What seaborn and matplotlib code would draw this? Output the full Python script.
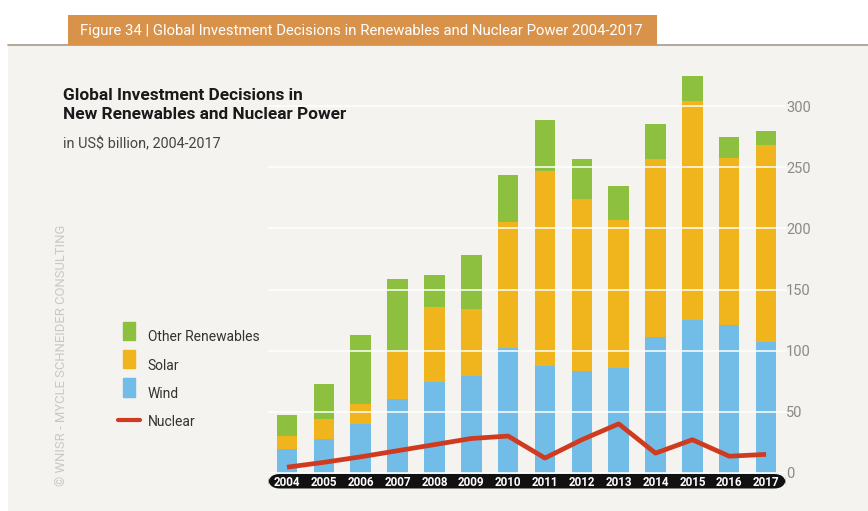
import matplotlib
matplotlib.use("Agg")
import matplotlib.pyplot as plt
from matplotlib.patches import Rectangle, FancyBboxPatch, Patch
from matplotlib.lines import Line2D
from matplotlib.legend_handler import HandlerPatch
import numpy as np
import pandas as pd
import seaborn as sns

# ---- data (US$ billion) ----
years = ["2004", "2005", "2006", "2007", "2008", "2009", "2010",
         "2011", "2012", "2013", "2014", "2015", "2016", "2017"]
wind = [19, 28, 40, 60, 74.5, 79, 102, 87, 83.5, 86, 111, 125, 121, 107]
solar = [11, 16, 16, 39, 61.5, 55, 103, 160, 141, 121, 146, 179.5, 137, 161]
other = [17, 29, 57, 60, 26, 44, 39, 42, 32.5, 28, 28.5, 20.5, 16.5, 12]
nuclear = [4.5, 8.5, 13, 18, 23, 28, 30, 12, 27, 40, 16, 27, 13.5, 15]
y_ticks = [0, 50, 100, 150, 200, 250, 300]

C_OTHER = "#8dc03f"
C_SOLAR = "#f0b51c"
C_WIND = "#72bde8"
C_NUC = "#d03a1e"

sns.set_theme(style="white")
plt.rcParams["font.family"] = ["Roboto", "DejaVu Sans"]

W, H = 868, 511
fig = plt.figure(figsize=(W / 100, H / 100), dpi=100)
fig.patch.set_facecolor("white")


def fx(px):
    return px / W


def fy(py):
    return 1 - py / H


# panel background and header rule
fig.patches.append(Rectangle((fx(8), 0), 1 - fx(8), fy(45), transform=fig.transFigure,
                             facecolor="#f4f3f0", edgecolor="none", zorder=-2))
fig.lines.append(Line2D([fx(8), 1], [fy(45), fy(45)], transform=fig.transFigure,
                        color="#a89a8a", lw=1.2, zorder=-1))
fig.patches.append(Rectangle((fx(68), fy(45)), fx(657) - fx(68), fy(15) - fy(45),
                             transform=fig.transFigure, facecolor="#d9924a",
                             edgecolor="none", zorder=1))
fig.text(fx(80), fy(30.5), "Figure 34 | Global Investment Decisions in Renewables and Nuclear Power 2004-2017",
         color="white", fontsize=10.7, va="center", ha="left", zorder=2)

# titles
fig.text(fx(63), fy(119), "Global Investment Decisions in\nNew Renewables and Nuclear Power",
         fontsize=12.4, fontweight="bold", color="#1a1a1a", ha="left", va="baseline",
         linespacing=1.35, zorder=2)
fig.text(fx(63), fy(148.5), "in US$ billion, 2004-2017", fontsize=10.4,
         color="#444444", ha="left", va="baseline", zorder=2)

# vertical credit line
fig.text(fx(62), fy(355), "© WNISR - MYCLE SCHNEIDER CONSULTING", rotation=90,
         fontsize=9.4, color="#c8c8c8", ha="center", va="center", zorder=2)

# year label strip
fig.patches.append(FancyBboxPatch((fx(268), fy(488.5)), fx(786) - fx(268), fy(474) - fy(488.5),
                                  boxstyle="round,pad=0,rounding_size=0.0135",
                                  transform=fig.transFigure, facecolor="#111111",
                                  edgecolor="none", zorder=1,
                                  mutation_aspect=W / H))

# ---- chart ----
zero_px, top_px = 472.7, 69.7
ax = fig.add_axes([fx(268), fy(zero_px), fx(786) - fx(268), (zero_px - top_px) / H])
ax.set_facecolor("none")
ax.set_zorder(3)

df = pd.DataFrame({"year": years, "wind": wind, "solar": solar, "other": other})
df["ws"] = df["wind"] + df["solar"]
df["total"] = df["ws"] + df["other"]

bw = 0.556
sns.barplot(data=df, x="year", y="total", color=C_OTHER, saturation=1, width=bw, ax=ax)
sns.barplot(data=df, x="year", y="ws", color=C_SOLAR, saturation=1, width=bw, ax=ax)
sns.barplot(data=df, x="year", y="wind", color=C_WIND, saturation=1, width=bw, ax=ax)
for p in ax.patches:
    p.set_edgecolor("none")

sns.lineplot(x=np.arange(len(years)), y=nuclear, color=C_NUC, lw=3.4, ax=ax,
             zorder=5, solid_capstyle="butt", solid_joinstyle="round")

ax.set_xlim(-0.516, 13.54)
ax.set_ylim(0, 330)
ax.set_yticks(y_ticks)
ax.set_axisbelow(False)
ax.grid(axis="y", color="white", lw=1.1)
ax.grid(axis="x", visible=False)
for s in ax.spines.values():
    s.set_visible(False)
ax.yaxis.tick_right()
ax.tick_params(axis="y", length=0, pad=0, labelsize=10.5, labelcolor="#8a8a8a")
ax.tick_params(axis="x", length=0, pad=2.4, labelsize=8.4, labelcolor="white")
for t in ax.get_xticklabels():
    t.set_fontweight("bold")
ax.set_xlabel("")
ax.set_ylabel("")


# legend: tall narrow colour swatches
def tall_rect(legend, orig_handle, xdescent, ydescent, width, height, fontsize):
    w = width * 0.52
    return Rectangle((xdescent + (width - w) / 2, ydescent - 0.1 * height), w, height * 1.2)


handles = [Patch(color=C_OTHER), Patch(color=C_SOLAR), Patch(color=C_WIND),
           Line2D([], [], color=C_NUC, lw=3)]
labels = ["Other Renewables", "Solar", "Wind", "Nuclear"]
leg = fig.legend(handles, labels, loc="upper left", bbox_to_anchor=(fx(118), fy(329)),
                 bbox_transform=fig.transFigure, frameon=False, fontsize=10,
                 handlelength=1.6, handleheight=1.3, handletextpad=0.55,
                 labelspacing=0.95, borderpad=0, borderaxespad=0,
                 handler_map={Patch: HandlerPatch(patch_func=tall_rect)})
for t in leg.get_texts():
    t.set_color("#333333")

fig.savefig("out.png", dpi=100, facecolor=fig.get_facecolor())
